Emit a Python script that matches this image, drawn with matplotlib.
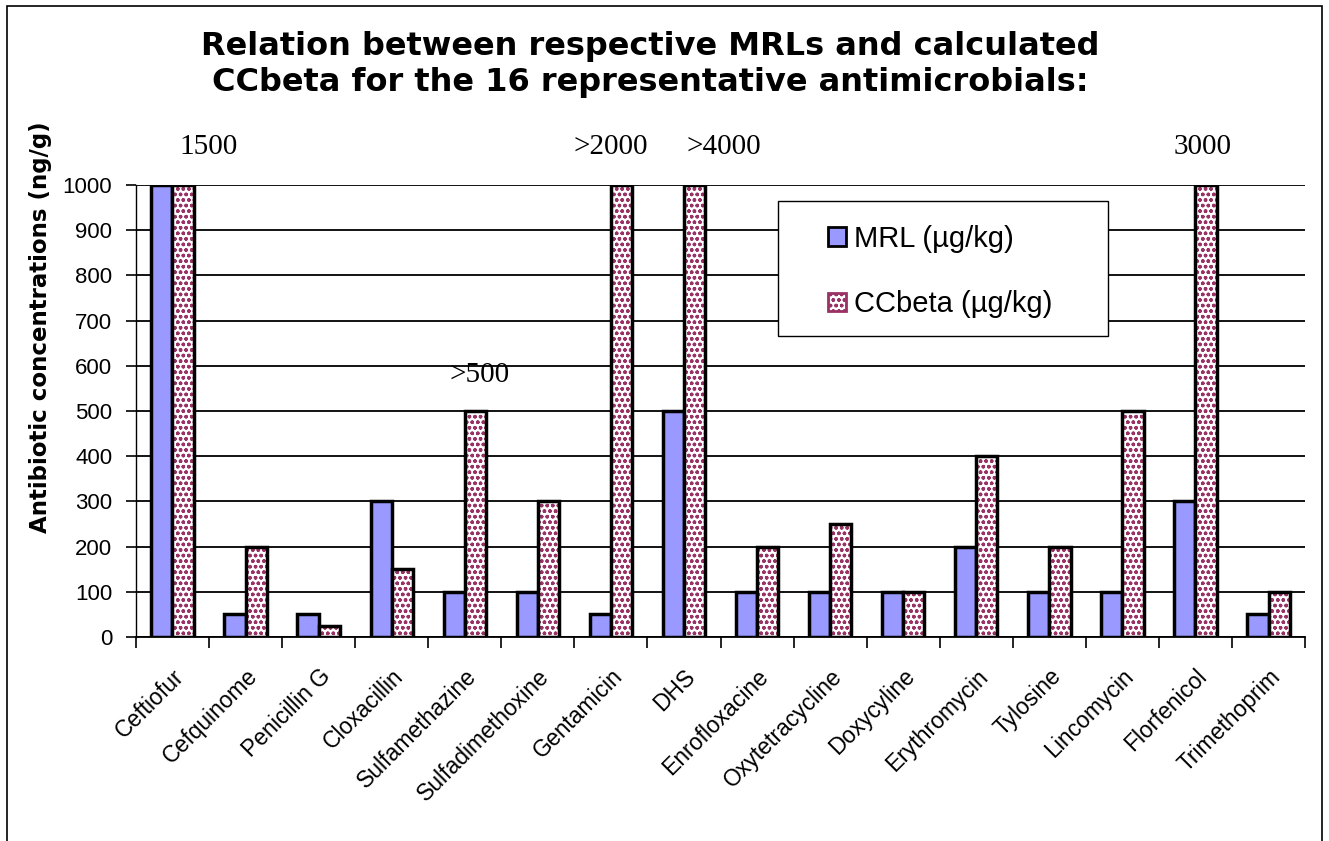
import matplotlib.pyplot as plt
import matplotlib.patches as patches
import numpy as np

# Data
drugs = ['Ceftiofur', 'Cefquinome', 'Penicillin G', 'Cloxacillin', 'Sulfamethazine',
         'Sulfadimethoxine', 'Gentamicin', 'DHS', 'Enrofloxacine', 'Oxytetracycline',
         'Doxycyline', 'Erythromycin', 'Tylosine', 'Lincomycin', 'Florfenicol', 'Trimethoprim']
mrl = [1000, 50, 50, 300, 100, 100, 50, 500, 100, 100, 100, 200, 100, 100, 300, 50]
ccbeta = [1500, 200, 25, 150, 500, 300, 2000, 4000, 200, 250, 100, 400, 200, 500, 3000, 100]
# values written above the clipped / off-scale bars
over_labels = ['1500', '>500', '>2000', '>4000', '3000']
over_idx = [0, 4, 6, 7, 14]

y_ticks = [0, 100, 200, 300, 400, 500, 600, 700, 800, 900, 1000]
y_max = 1000

plt.rcParams['font.family'] = ['Liberation Sans', 'DejaVu Sans']
plt.rcParams['hatch.linewidth'] = 1.0

fig = plt.figure(figsize=(13.29, 8.41), dpi=100)
ax = fig.add_axes([0.1023, 0.2426, 0.8797, 0.5374])

x = np.arange(len(drugs))
w = 0.29
mrl_c = np.minimum(mrl, y_max)
cc_c = np.minimum(ccbeta, y_max)
ax.bar(x - w / 2, mrl_c, w, color='#9999ff', edgecolor='black', linewidth=2.5, zorder=3)
# hatch drawn in maroon, then black outline on top
ax.bar(x + w / 2, cc_c, w, color='white', edgecolor='#993366', linewidth=0, hatch='ooo', zorder=3)
ax.bar(x + w / 2, cc_c, w, fill=False, edgecolor='black', linewidth=2.5, zorder=3)

# Axis set-up
ax.set_xlim(-0.5, len(drugs) - 0.5)
ax.set_ylim(0, y_max)
ax.set_yticks(y_ticks)
ax.set_yticklabels([str(v) for v in y_ticks], fontsize=16)
ax.yaxis.grid(True, color='black', linewidth=1.3, zorder=0)
ax.set_axisbelow(True)
for s in ['top', 'right']:
    ax.spines[s].set_visible(False)
ax.spines['left'].set_linewidth(1.0)
ax.spines['bottom'].set_linewidth(1.3)
ax.tick_params(axis='y', direction='out', length=7, width=1.2, pad=10)

ax.set_xticks(x)
ax.set_xticklabels(drugs, rotation=45, ha='right', rotation_mode='anchor', fontsize=16.5)
ax.tick_params(axis='x', length=0, pad=20)
ax.set_xticks(np.arange(-0.5, len(drugs)), minor=True)
ax.tick_params(axis='x', which='minor', direction='out', length=8, width=1.2)

ax.set_ylabel('Antibiotic concentrations (ng/g)', fontsize=16.5, fontweight='bold',
              family='DejaVu Sans')
ax.yaxis.set_label_coords(-0.072, 0.686)

# Labels above off-scale bars
offsets = [0.5, 0.2, 0.0, 0.55, 0.1]
heights = [1085, 580, 1085, 1085, 1085]
for lab, i, dx, h in zip(over_labels, over_idx, offsets, heights):
    ax.text(i + dx, h, lab, ha='center', va='center', fontsize=21,
            family='Liberation Serif', clip_on=False)

fig.suptitle('Relation between respective MRLs and calculated\nCCbeta for the 16 representative antimicrobials:',
             x=0.489, y=0.963, fontsize=23, fontweight='bold', family='DejaVu Sans', linespacing=1.2)

# Legend box drawn as its own patch, legend entries without frame
ax.add_patch(patches.Rectangle((0.549, 0.666), 0.2825, 0.2986, transform=ax.transAxes,
                               facecolor='white', edgecolor='black', linewidth=1.0, zorder=4))
h1 = patches.Patch(facecolor='#9999ff', edgecolor='black', linewidth=2)
h2 = patches.Patch(facecolor='white', edgecolor='#993366', hatch='ooo', linewidth=2)
leg = ax.legend([h1, h2], ['MRL (µg/kg)', 'CCbeta (µg/kg)'], loc='center left',
                bbox_to_anchor=(0.592, 0.8086), fontsize=21, frameon=False, borderpad=0,
                labelspacing=1.3, handlelength=0.6, handleheight=0.6, handletextpad=0.3,
                borderaxespad=0)
leg.set_zorder(5)

# Outer border of the chart area
fig.patches.append(patches.Rectangle((0.005, -0.05), 0.99, 1.043, transform=fig.transFigure,
                                     fill=False, edgecolor='black', linewidth=1.2))

fig.savefig('out.png', dpi=100)
